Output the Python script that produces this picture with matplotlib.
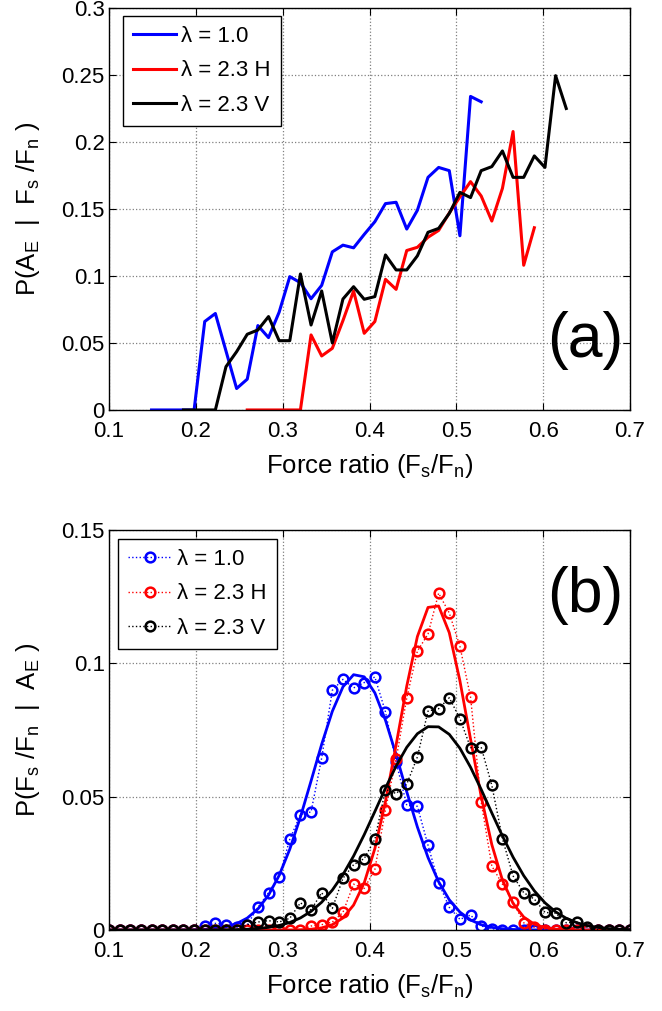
import numpy as np
import matplotlib.pyplot as plt
from matplotlib.ticker import MultipleLocator, FormatStrFormatter

plt.rcParams['font.family'] = ['Liberation Sans', 'DejaVu Sans']
plt.rcParams['mathtext.default'] = 'regular'

# bin centres of the force ratio, 50 bins from 0.1 to 0.7
bins = np.linspace(0.1, 0.7, 50)

labels = ['λ = 1.0', 'λ = 2.3 H', 'λ = 2.3 V']
colors = ['b', 'r', 'k']

# (a) P(A_E | Fs/Fn), each series starts at a given bin index
start_l10, start_l23h, start_l23v = 4, 13, 7
pa_l10 = [0, 0, 0, 0, 0, 0.066, 0.072, 0.044, 0.016, 0.023, 0.063, 0.054,
          0.073, 0.0995, 0.095, 0.083, 0.093, 0.118, 0.123, 0.121, 0.131,
          0.1405, 0.154, 0.155, 0.135, 0.149, 0.1736, 0.181, 0.1786, 0.130,
          0.234, 0.230]
pa_l23h = [0, 0, 0, 0, 0, 0, 0.056, 0.0403, 0.046, 0.0667, 0.0888, 0.0572,
           0.066, 0.0975, 0.090, 0.119, 0.1214, 0.1289, 0.134, 0.147, 0.159,
           0.1704, 0.1597, 0.141, 0.1654, 0.2078, 0.108, 0.136]
pa_l23v = [0, 0, 0, 0, 0.0323, 0.0435, 0.0565, 0.0597, 0.0697, 0.0517,
           0.0517, 0.1015, 0.0634, 0.0888, 0.050, 0.0828, 0.092, 0.0826,
           0.0846, 0.1157, 0.1045, 0.1045, 0.115, 0.1326, 0.1355, 0.1467,
           0.1624, 0.1585, 0.1786, 0.1816, 0.1933, 0.1736, 0.1736, 0.1896,
           0.181, 0.2495, 0.225]

# (b) P(Fs/Fn | A_E) on all 50 bins
pb_l10 = [0, 0, 0, 0, 0, 0, 0, 0, 0, 0.0015, 0.0025, 0.002, 0.001, 0.002,
          0.0085, 0.014, 0.020, 0.034, 0.0433, 0.0443, 0.0645, 0.0899, 0.094,
          0.0908, 0.0928, 0.0949, 0.0818, 0.063, 0.0468, 0.0464, 0.0318,
          0.0177, 0.0085, 0.004, 0.0056, 0.0015, 0.0005, 0, 0, 0, 0, 0, 0, 0,
          0, 0, 0, 0, 0, 0]
pb_l23h = [0, 0, 0, 0, 0, 0, 0, 0, 0, 0, 0, 0, 0, 0, 0, 0, 0, 0, 0, 0.0015,
           0.002, 0.003, 0.0066, 0.0172, 0.0156, 0.0227, 0.0452, 0.064, 0.087,
           0.1046, 0.111, 0.1263, 0.1189, 0.1064, 0.0874, 0.048, 0.024,
           0.0172, 0.0106, 0.0027, 0.001, 0, 0, 0, 0, 0, 0, 0, 0, 0]
pb_l23v = [0, 0, 0, 0, 0, 0, 0, 0, 0, 0, 0, 0, 0, 0.002, 0.003, 0.0035,
           0.003, 0.0044, 0.0102, 0.0075, 0.014, 0.0081, 0.0194, 0.0245,
           0.0268, 0.034, 0.0527, 0.0512, 0.0547, 0.0649, 0.0821, 0.083,
           0.0871, 0.0793, 0.0684, 0.0686, 0.0543, 0.0343, 0.0203, 0.014,
           0.0116, 0.0066, 0.0063, 0.0027, 0.003, 0.001, 0, 0, 0, 0]


def normal_fit(x, p):
    # normal distribution with the same mean and spread as the histogram
    p = np.asarray(p, dtype=float)
    w = p / p.sum()
    mu = np.sum(w * x)
    sd = np.sqrt(np.sum(w * (x - mu)**2))
    dx = x[1] - x[0]
    return p.sum() * dx / (sd * np.sqrt(2 * np.pi)) * np.exp(-(x - mu)**2 / (2 * sd**2))


def style_axes(ax, ymax, ystep):
    ax.set_xlim(0.1, 0.7)
    ax.set_ylim(0, ymax)
    ax.xaxis.set_major_locator(MultipleLocator(0.1))
    ax.yaxis.set_major_locator(MultipleLocator(ystep))
    ax.xaxis.set_major_formatter(FormatStrFormatter('%g'))
    ax.yaxis.set_major_formatter(FormatStrFormatter('%g'))
    ax.tick_params(direction='in', top=True, right=True, length=5,
                   labelsize=16)
    ax.tick_params(axis='x', pad=8)
    ax.tick_params(axis='y', pad=3)
    ax.grid(True, linestyle=':', color='0.5', linewidth=0.9)
    for s in ax.spines.values():
        s.set_linewidth(1.0)
    ax.set_xlabel('Force ratio (F$_s$/F$_n$)', fontsize=18.5, labelpad=7)


def add_legend(ax, handles, anchor):
    leg = ax.legend(handles=handles, loc='upper left', bbox_to_anchor=anchor,
                    borderaxespad=0, fontsize=16, handlelength=1.95,
                    handletextpad=0.25, labelspacing=0.6, borderpad=0.45,
                    fancybox=False, edgecolor='k', framealpha=1, numpoints=1)
    leg.get_frame().set_linewidth(1.0)


fig = plt.figure(figsize=(6.62, 10.11), dpi=100)
ax_1 = fig.add_axes([0.1647, 0.5945, 0.787, 0.3976])
ax_2 = fig.add_axes([0.1647, 0.0801, 0.787, 0.3956])

# panel (a)
lines = []
for y, i0, c, lab in zip([pa_l10, pa_l23h, pa_l23v],
                         [start_l10, start_l23h, start_l23v], colors, labels):
    h, = ax_1.plot(bins[i0:i0 + len(y)], y, color=c, linewidth=2.2, label=lab)
    lines.append(h)
style_axes(ax_1, 0.3, 0.05)
ax_1.set_ylabel('P(A$_E$  |  F$_s$ /F$_n$ )', fontsize=18.5, labelpad=14)
ax_1.text(0.914, 0.172, '(a)', transform=ax_1.transAxes, fontsize=45,
          ha='center', va='center')
add_legend(ax_1, lines, (0.026, 0.98))

# panel (b)
marks = []
for y, c, lab in zip([pb_l10, pb_l23h, pb_l23v], colors, labels):
    h, = ax_2.plot(bins, y, linestyle=':', color=c, linewidth=1.0, marker='o',
                   markersize=7, markerfacecolor='none', markeredgewidth=1.8,
                   label=lab)
    ax_2.plot(bins, normal_fit(bins, y), color=c, linewidth=2.0)
    marks.append(h)
style_axes(ax_2, 0.15, 0.05)
ax_2.set_ylabel('P(F$_s$ /F$_n$  |  A$_E$ )', fontsize=18.5, labelpad=14)
ax_2.text(0.914, 0.8375, '(b)', transform=ax_2.transAxes, fontsize=45,
          ha='center', va='center')
add_legend(ax_2, marks, (0.018, 0.9775))

fig.savefig('out.png', dpi=100)
